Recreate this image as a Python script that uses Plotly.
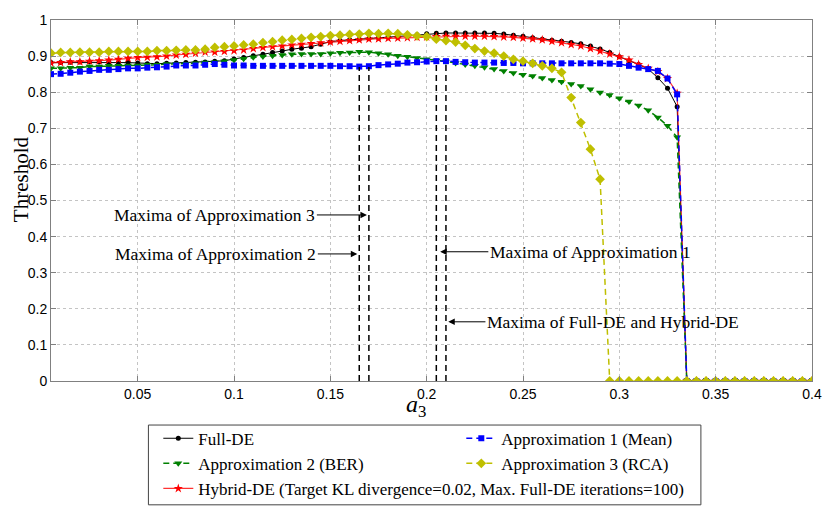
import plotly.graph_objects as go

# sample points of a3
a3 = [0.005, 0.01, 0.015, 0.02, 0.025, 0.03, 0.035, 0.04, 0.045, 0.05,
      0.055, 0.06, 0.065, 0.07, 0.075, 0.08, 0.085, 0.09, 0.095, 0.1,
      0.105, 0.11, 0.115, 0.12, 0.125, 0.13, 0.135, 0.14, 0.145, 0.15,
      0.155, 0.16, 0.165, 0.17, 0.175, 0.18, 0.185, 0.19, 0.195, 0.2,
      0.205, 0.21, 0.215, 0.22, 0.225, 0.23, 0.235, 0.24, 0.245, 0.25,
      0.255, 0.26, 0.265, 0.27, 0.275, 0.28, 0.285, 0.29, 0.295, 0.3,
      0.305, 0.31, 0.315, 0.32, 0.325, 0.33, 0.335, 0.34, 0.345, 0.35,
      0.355, 0.36, 0.365, 0.37, 0.375, 0.38, 0.385, 0.39, 0.395, 0.4]

full_de = [0.882, 0.882, 0.883, 0.884, 0.884, 0.884, 0.884, 0.882, 0.882, 0.881,
           0.879, 0.879, 0.880, 0.881, 0.882, 0.883, 0.884, 0.886, 0.887, 0.892,
           0.896, 0.901, 0.905, 0.910, 0.914, 0.919, 0.922, 0.926, 0.933, 0.940,
           0.943, 0.945, 0.947, 0.949, 0.951, 0.953, 0.955, 0.957, 0.959, 0.962,
           0.963, 0.964, 0.964, 0.964, 0.964, 0.964, 0.963, 0.961, 0.958, 0.955,
           0.951, 0.947, 0.944, 0.941, 0.938, 0.934, 0.928, 0.920, 0.910, 0.898,
           0.887, 0.877, 0.864, 0.840, 0.811, 0.760, 0, 0, 0, 0,
           0, 0, 0, 0, 0, 0, 0, 0, 0, 0]

approx1 = [0.850, 0.851, 0.854, 0.857, 0.859, 0.862, 0.862, 0.864, 0.866, 0.866,
           0.868, 0.869, 0.871, 0.874, 0.874, 0.874, 0.876, 0.878, 0.876, 0.874,
           0.874, 0.873, 0.873, 0.873, 0.873, 0.873, 0.873, 0.873, 0.873, 0.873,
           0.872, 0.872, 0.871, 0.872, 0.875, 0.877, 0.879, 0.882, 0.883, 0.885,
           0.886, 0.886, 0.884, 0.883, 0.882, 0.882, 0.882, 0.881, 0.881, 0.880,
           0.880, 0.880, 0.880, 0.880, 0.880, 0.880, 0.880, 0.880, 0.879, 0.878,
           0.873, 0.868, 0.864, 0.859, 0.838, 0.794, 0, 0, 0, 0,
           0, 0, 0, 0, 0, 0, 0, 0, 0, 0]

approx2 = [0.866, 0.866, 0.868, 0.868, 0.871, 0.871, 0.873, 0.873, 0.874, 0.874,
           0.876, 0.876, 0.878, 0.878, 0.879, 0.880, 0.882, 0.883, 0.886, 0.889,
           0.893, 0.897, 0.899, 0.901, 0.903, 0.905, 0.906, 0.906, 0.906, 0.908,
           0.909, 0.910, 0.912, 0.911, 0.908, 0.905, 0.901, 0.898, 0.895, 0.891,
           0.888, 0.885, 0.881, 0.877, 0.873, 0.869, 0.864, 0.859, 0.853, 0.848,
           0.845, 0.839, 0.834, 0.829, 0.823, 0.817, 0.808, 0.799, 0.792, 0.783,
           0.774, 0.763, 0.750, 0.730, 0.707, 0.675, 0, 0, 0, 0,
           0, 0, 0, 0, 0, 0, 0, 0, 0, 0]

approx3 = [0.908, 0.910, 0.910, 0.911, 0.911, 0.911, 0.913, 0.913, 0.913, 0.913,
           0.913, 0.915, 0.915, 0.916, 0.917, 0.917, 0.919, 0.924, 0.926, 0.928,
           0.931, 0.933, 0.937, 0.940, 0.944, 0.946, 0.949, 0.952, 0.954, 0.957,
           0.958, 0.960, 0.961, 0.963, 0.962, 0.963, 0.962, 0.959, 0.956, 0.954,
           0.947, 0.943, 0.939, 0.930, 0.921, 0.914, 0.908, 0.900, 0.891, 0.886,
           0.880, 0.873, 0.866, 0.855, 0.785, 0.716, 0.642, 0.559, 0, 0,
           0, 0, 0, 0, 0, 0, 0, 0, 0, 0,
           0, 0, 0, 0, 0, 0, 0, 0, 0, 0]

hybrid = [0.881, 0.882, 0.884, 0.884, 0.886, 0.887, 0.889, 0.891, 0.894, 0.896,
          0.897, 0.898, 0.900, 0.903, 0.905, 0.908, 0.911, 0.911, 0.913, 0.915,
          0.917, 0.921, 0.924, 0.926, 0.928, 0.931, 0.933, 0.935, 0.937, 0.939,
          0.941, 0.943, 0.945, 0.947, 0.948, 0.949, 0.950, 0.951, 0.952, 0.953,
          0.954, 0.955, 0.955, 0.955, 0.955, 0.955, 0.954, 0.953, 0.952, 0.950,
          0.948, 0.945, 0.941, 0.937, 0.932, 0.928, 0.921, 0.914, 0.906, 0.898,
          0.889, 0.877, 0.866, 0.857, 0.838, 0.797, 0, 0, 0, 0,
          0, 0, 0, 0, 0, 0, 0, 0, 0, 0]

# locations of the maxima (dashed markers) and how high the dashes go
maxima_x = [0.165, 0.17, 0.205, 0.21]
maxima_top = [0.87, 0.87, 0.885, 0.885]

x_ticks = [0.05, 0.1, 0.15, 0.2, 0.25, 0.3, 0.35, 0.4]
x_ticktext = ["0.05", "0.1", "0.15", "0.2", "0.25", "0.3", "0.35", "0.4"]

SERIF = "Liberation Serif"
SANS = "Liberation Sans"

fig = go.Figure()

# drawing order: black, red, green, blue, yellow (legendrank keeps legend order)
fig.add_trace(go.Scatter(
    x=a3, y=full_de, name="Full-DE", mode="lines+markers", legendrank=1,
    line=dict(color="black", width=1),
    marker=dict(symbol="circle", size=5, color="black"),
))
fig.add_trace(go.Scatter(
    x=a3, y=hybrid, name="Hybrid-DE (Target KL divergence=0.02, Max. Full-DE iterations=100)",
    mode="lines+markers", legendrank=5,
    line=dict(color="rgba(255,0,0,0.8)", width=1.2),
    marker=dict(symbol="star", size=7, color="red"),
))
fig.add_trace(go.Scatter(
    x=a3, y=approx2, name="Approximation 2 (BER)", mode="lines+markers", legendrank=3,
    line=dict(color="#008000", width=1.5, dash="6px,4px"),
    marker=dict(symbol="triangle-down", size=7, color="#008000"),
))
fig.add_trace(go.Scatter(
    x=a3, y=approx1, name="Approximation 1 (Mean)", mode="lines+markers", legendrank=2,
    line=dict(color="#0000ff", width=1.5, dash="6px,4px"),
    marker=dict(symbol="square", size=6, color="#0000ff"),
))
fig.add_trace(go.Scatter(
    x=a3, y=approx3, name="Approximation 3 (RCA)", mode="lines+markers", legendrank=4,
    line=dict(color="#bfbf00", width=1.5, dash="6px,4px"),
    marker=dict(symbol="diamond", size=7.5, color="#bfbf00"),
))

for mx, mt in zip(maxima_x, maxima_top):
    fig.add_shape(type="line", xref="x", yref="y", x0=mx, x1=mx, y0=0, y1=mt,
                  line=dict(color="black", width=1.5, dash="6px,4px"))

# legend frame
fig.add_shape(type="rect", xref="paper", yref="paper",
              x0=0.128, x1=0.854, y0=-0.343, y1=-0.122,
              line=dict(color="#444444", width=1), fillcolor="rgba(0,0,0,0)")

ann_font = dict(family=SERIF, size=17.5, color="black")
arrows = [
    # (text, head x, head y, tail x, side)
    ("Maxima of Approximation 3", 0.169, 0.46, 0.143, "right"),
    ("Maxima of Approximation 2", 0.164, 0.352, 0.1435, "right"),
    ("Maxima of Approximation 1", 0.207, 0.358, 0.232, "left"),
    ("Maxima of Full-DE and Hybrid-DE", 0.2112, 0.164, 0.2305, "left"),
]
for text, hx, hy, tx, side in arrows:
    fig.add_annotation(x=hx, y=hy, ax=tx, ay=hy, axref="x", ayref="y",
                       text=text, xanchor=side, yanchor="middle",
                       showarrow=True, arrowhead=2, arrowsize=1.3,
                       arrowwidth=1, arrowcolor="black", font=ann_font)

# axis titles placed as in the reference
fig.add_annotation(x=-0.039, y=0.56, xref="paper", yref="paper", text="Threshold",
                   textangle=-90, showarrow=False, xanchor="center", yanchor="middle",
                   font=dict(family=SERIF, size=21, color="black"))
fig.add_annotation(x=0.48, y=-0.068, xref="paper", yref="paper",
                   text="<i>a</i><sub>3</sub>", showarrow=False,
                   xanchor="center", yanchor="middle",
                   font=dict(family=SERIF, size=24, color="black"))

axis_common = dict(
    showline=True, linecolor="#808080", linewidth=1, mirror="ticks",
    ticks="inside", ticklen=5, tickcolor="#808080",
    showgrid=True, gridcolor="#c4c4c4", griddash="dot", gridwidth=1,
    zeroline=False, automargin=False,
    tickfont=dict(family=SANS, size=14, color="black"),
)

# the page body adds 8px on the left/top, so the figure is 8px smaller
fig.update_layout(
    width=822, height=501,
    margin=dict(l=43, r=18, t=12, b=128, autoexpand=False),
    plot_bgcolor="white", paper_bgcolor="white",
    showlegend=True,
    legend=dict(
        orientation="h", x=0.141, y=-0.11, xanchor="left", yanchor="top",
        entrywidth=258, itemwidth=30, bgcolor="rgba(0,0,0,0)",
        font=dict(family=SERIF, size=17, color="black"),
    ),
    xaxis=dict(range=[0.005, 0.4], tickvals=x_ticks, ticktext=x_ticktext,
               **axis_common),
    yaxis=dict(range=[0, 1], dtick=0.1, **axis_common),
)

fig.write_html("out.html")
